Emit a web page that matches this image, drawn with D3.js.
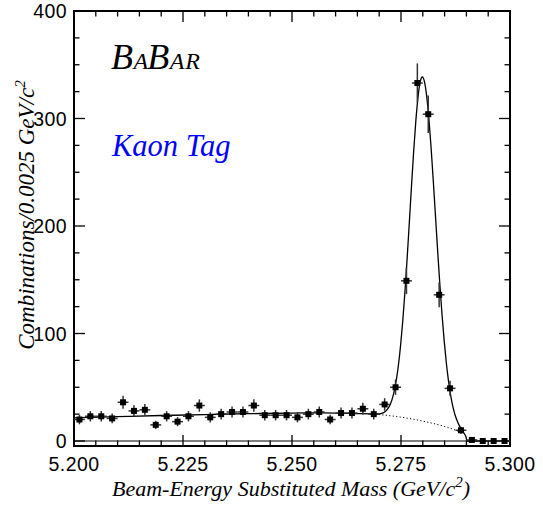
<!DOCTYPE html>
<html>
<head>
<meta charset="utf-8">
<script src="https://cdn.jsdelivr.net/npm/d3@7"></script>
<style>
  body { margin: 0; background: white; }
</style>
</head>
<body>
<script>
// bin centres (GeV/c^2), 0.0025 wide
var binCenters = [5.20125, 5.20375, 5.20625, 5.20875, 5.21125, 5.21375, 5.21625, 5.21875,
  5.22125, 5.22375, 5.22625, 5.22875, 5.23125, 5.23375, 5.23625, 5.23875,
  5.24125, 5.24375, 5.24625, 5.24875, 5.25125, 5.25375, 5.25625, 5.25875,
  5.26125, 5.26375, 5.26625, 5.26875, 5.27125, 5.27375, 5.27625, 5.27875,
  5.28125, 5.28375, 5.28625, 5.28875, 5.29125, 5.29375, 5.29625, 5.29875]

var counts = [20, 23, 23, 21, 36, 28, 29, 15, 23, 18, 23, 33, 22, 25, 27, 27,
  33, 24, 24, 24, 22, 25, 27, 20, 26, 26, 30, 25, 34, 50, 149, 333,
  304, 136, 49, 10, 1, 0, 0, 0]

// total fit (solid)
var fitMass = [5.200, 5.210, 5.220, 5.230, 5.240, 5.250, 5.255, 5.260, 5.265,
  5.2699, 5.2704, 5.2709, 5.2714, 5.2719, 5.2724, 5.2729, 5.2734, 5.2739, 5.2744,
  5.2749, 5.2754, 5.2759, 5.2764, 5.2769, 5.2774, 5.2779, 5.2784, 5.2789, 5.2794,
  5.2799, 5.2804, 5.2809, 5.2814, 5.2819, 5.2824, 5.2829, 5.2834, 5.2839, 5.2844,
  5.2849, 5.2854, 5.2859, 5.2864, 5.2869, 5.2874, 5.2879, 5.2884, 5.2889, 5.2894,
  5.2899, 5.2901, 5.300]
var fitTotal = [21.6, 22.7, 23.7, 24.6, 25.4, 26.0, 26.1, 26.0, 25.5,
  25.2, 25.5, 26.1, 27.4, 29.6, 32.9, 38.0, 45.6, 56.1, 70.2,
  88.7, 111.4, 138.6, 169.4, 202.6, 236.6, 269.0, 297.5, 319.9, 334.0,
  338.6, 333.8, 320.4, 299.8, 273.0, 242.4, 209.9, 177.3, 146.3, 118.1,
  93.4, 72.6, 55.7, 42.3, 32.0, 24.2, 18.6, 14.1, 10.5, 7.5,
  4.0, 0, 0]

// background only (dotted) under the peak
var bkgMass = [5.2699, 5.2719, 5.2739, 5.2759, 5.2779, 5.2799, 5.2819, 5.2839,
  5.2859, 5.2869, 5.2879, 5.2884, 5.2889]
var bkgValue = [24.6, 23.8, 22.8, 21.6, 20.2, 18.6, 16.8, 14.8, 12.4, 11.0, 9.4, 8.3, 7.0]

var xTickLabels = ["5.200", "5.225", "5.250", "5.275", "5.300"]
var yTickLabels = ["0", "100", "200", "300", "400"]

var w = 543;
var h = 508;
var plotLeft = 74, plotRight = 510, plotTop = 11, plotBottom = 446;
var binWidth = 0.0025;

var xScale = d3.scaleLinear()
                .domain([5.2, 5.3])
                .range([plotLeft, plotRight])

var yScale = d3.scaleLinear()
                .domain([-4.65, 400])
                .range([plotBottom, plotTop])

var svg = d3.select("body").append("svg")
              .attr("width", w)
              .attr("height", h)
              .style("background", "white")

// ticks: minor every 0.005 / 25, major every 0.025 / 100
var xMinor = d3.range(0, 21).map(function(i) { return 5.2 + i * 0.005 })
var yMinor = d3.range(0, 17).map(function(i) { return i * 25 })

var ticks = svg.append("g").attr("stroke", "black").attr("stroke-width", 1.3)

xMinor.forEach(function(v, i) {
  var len = (i % 5 == 0) ? 11 : 5.5
  ticks.append("line").attr("x1", xScale(v)).attr("x2", xScale(v))
       .attr("y1", plotBottom).attr("y2", plotBottom - len)
  ticks.append("line").attr("x1", xScale(v)).attr("x2", xScale(v))
       .attr("y1", plotTop).attr("y2", plotTop + len)
})

yMinor.forEach(function(v, i) {
  var len = (i % 4 == 0) ? 11 : 5.5
  ticks.append("line").attr("y1", yScale(v)).attr("y2", yScale(v))
       .attr("x1", plotLeft).attr("x2", plotLeft + len)
  ticks.append("line").attr("y1", yScale(v)).attr("y2", yScale(v))
       .attr("x1", plotRight).attr("x2", plotRight - len)
})

// zero line
svg.append("line")
   .attr("x1", plotLeft).attr("x2", plotRight)
   .attr("y1", yScale(0)).attr("y2", yScale(0))
   .attr("stroke", "black").attr("stroke-width", 1.2)

// frame
svg.append("rect")
   .attr("x", plotLeft).attr("y", plotTop)
   .attr("width", plotRight - plotLeft).attr("height", plotBottom - plotTop)
   .attr("fill", "none").attr("stroke", "black").attr("stroke-width", 2)

// tick labels
svg.selectAll(".xlab")
   .data(xTickLabels)
   .enter()
   .append("text")
   .attr("x", function(d) { return xScale(+d) })
   .attr("y", 471)
   .attr("text-anchor", "middle")
   .attr("font-family", "Liberation Sans, Arial, sans-serif")
   .attr("font-size", 19.5)
   .attr("letter-spacing", 0.4)
   .text(function(d) { return d })

svg.selectAll(".ylab")
   .data(yTickLabels)
   .enter()
   .append("text")
   .attr("x", 67)
   .attr("y", function(d) { return yScale(+d) + 7 })
   .attr("text-anchor", "end")
   .attr("font-family", "Liberation Sans, Arial, sans-serif")
   .attr("font-size", 19.5)
   .attr("letter-spacing", 0.4)
   .text(function(d) { return d })

// axis titles
var xTitle = svg.append("text")
   .attr("x", 291).attr("y", 496)
   .attr("text-anchor", "middle")
   .attr("font-family", "Liberation Serif, Times New Roman, serif")
   .attr("font-style", "italic")
   .attr("font-size", 22)
xTitle.append("tspan").text("Beam-Energy Substituted Mass (GeV/c")
xTitle.append("tspan").attr("dy", -9).attr("font-size", 15).text("2")
xTitle.append("tspan").attr("dy", 9).text(")")

var yTitle = svg.append("text")
   .attr("transform", "translate(34, 215) rotate(-90)")
   .attr("text-anchor", "middle")
   .attr("font-family", "Liberation Serif, Times New Roman, serif")
   .attr("font-style", "italic")
   .attr("font-size", 23)
yTitle.append("tspan").text("Combinations/0.0025 GeV/c")
yTitle.append("tspan").attr("dy", -9).attr("font-size", 15).text("2")

// fit curves
var line = d3.line()
   .x(function(d) { return xScale(d[0]) })
   .y(function(d) { return yScale(d[1]) })
   .curve(d3.curveMonotoneX)

svg.append("path")
   .datum(bkgMass.map(function(m, i) { return [m, bkgValue[i]] }))
   .attr("d", line)
   .attr("fill", "none")
   .attr("stroke", "black")
   .attr("stroke-width", 1)
   .attr("stroke-dasharray", "1.2,2.3")

svg.append("path")
   .datum(fitMass.map(function(m, i) { return [m, fitTotal[i]] }))
   .attr("d", line)
   .attr("fill", "none")
   .attr("stroke", "black")
   .attr("stroke-width", 1.3)

// data points with errors
var points = svg.append("g")
var data = binCenters.map(function(m, i) { return { m: m, n: counts[i] } })

points.selectAll(".ex")
   .data(data).enter().append("line")
   .attr("x1", function(d) { return xScale(d.m - binWidth / 2) })
   .attr("x2", function(d) { return xScale(d.m + binWidth / 2) })
   .attr("y1", function(d) { return yScale(d.n) })
   .attr("y2", function(d) { return yScale(d.n) })
   .attr("stroke", "#333").attr("stroke-width", 1.5)

points.selectAll(".ey")
   .data(data).enter().append("line")
   .attr("x1", function(d) { return xScale(d.m) })
   .attr("x2", function(d) { return xScale(d.m) })
   .attr("y1", function(d) { return yScale(d.n - Math.sqrt(d.n)) })
   .attr("y2", function(d) { return yScale(d.n + Math.sqrt(d.n)) })
   .attr("stroke", "#333").attr("stroke-width", 1.5)

points.selectAll("rect")
   .data(data).enter().append("rect")
   .attr("x", function(d) { return xScale(d.m) - 3 })
   .attr("y", function(d) { return yScale(d.n) - 3 })
   .attr("width", 6).attr("height", 6)
   .attr("fill", "black")

// labels
var babar = svg.append("text")
   .attr("x", 111).attr("y", 69)
   .attr("font-family", "Liberation Serif, Times New Roman, serif")
   .attr("font-style", "italic")
   .attr("fill", "black")
babar.append("tspan").attr("font-size", 36).text("B")
babar.append("tspan").attr("font-size", 24).attr("dx", 0.5).text("A")
babar.append("tspan").attr("font-size", 36).attr("dx", -1).text("B")
babar.append("tspan").attr("font-size", 24).attr("dx", 0.5).text("A")
babar.append("tspan").attr("font-size", 24).attr("dx", 1).text("R")

svg.append("text")
   .attr("x", 112).attr("y", 156)
   .attr("font-family", "Liberation Serif, Times New Roman, serif")
   .attr("font-style", "italic")
   .attr("font-size", 30.5)
   .attr("fill", "#0000ff")
   .attr("font-weight", "normal")
   .text("Kaon Tag")
</script>
</body>
</html>
